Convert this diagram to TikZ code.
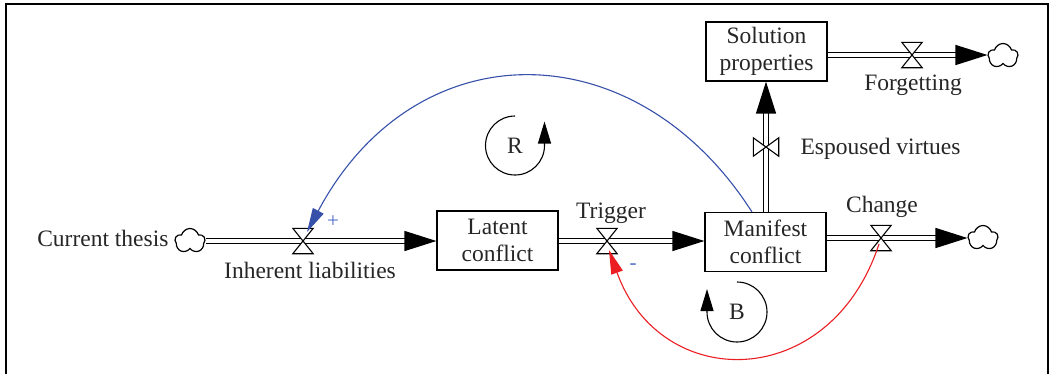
\documentclass[tikz,border=0pt]{standalone}
\usepackage{fontspec}
\setmainfont{Liberation Serif}
\usetikzlibrary{arrows.meta,shapes.symbols,calc}
\definecolor{loopblue}{RGB}{55,80,170}
\definecolor{signblue}{RGB}{80,110,200}
\definecolor{loopred}{RGB}{235,30,35}
\newcommand{\hvalvedraw}[1]{\filldraw[fill=white,line width=1.1pt] (#1.north west) -- (#1.north east) -- (#1.south west) -- (#1.south east) -- cycle;}
\newcommand{\vvalvedraw}[1]{\filldraw[fill=white,line width=1.1pt] (#1.north west) -- (#1.south west) -- (#1.north east) -- (#1.south east) -- cycle;}
\begin{document}
\begin{tikzpicture}[x=1pt,y=-1pt,
  every node/.style={font=\fontsize{23.5}{27}\selectfont, text=black!85},
  stock/.style={draw, line width=1.2pt, minimum width=121pt, minimum height=59pt, inner sep=0pt, align=center},
  pipe/.style={draw=black, double=white, line width=1.3pt, double distance=3.6pt, -{Triangle[length=32pt,width=20pt]}},
  cloudnode/.style={cloud, cloud puffs=5, cloud puff arc=150, draw, line width=1.2pt, minimum width=30pt, minimum height=25pt, inner sep=0pt, aspect=1.15},
  valveh/.style={minimum width=20pt, minimum height=25pt, inner sep=0pt},
  valvev/.style={minimum width=25pt, minimum height=18pt, inner sep=0pt},
  link/.style={line width=1.1pt},
  looparrow/.style={line width=1.1pt, -{Triangle[length=22pt,width=13pt]}},
]
\useasboundingbox (0,0) rectangle (1050,373);
\draw[line width=2pt] (6,380) -- (6,4) -- (1048,4) -- (1048,380);

% stocks
\node[stock] (latent) at (497.5,240.5) {Latent\\conflict};
\node[stock] (manifest) at (765.5,242) {Manifest\\conflict};
\node[stock] (solution) at (766.5,51.5) {Solution\\properties};

% clouds
\node[cloudnode] (c1) at (190,241) {};
\node[cloudnode] (c2) at (983,238) {};
\node[cloudnode] (c3) at (1003,56) {};

% valves
\node[valveh] (ilv) at (303,241) {};
\node[valveh] (tv) at (607,241) {};
\node[valveh] (chv) at (881,238) {};
\node[valveh] (fv) at (912,55) {};
\node[valvev] (ev) at (766,147) {};

% pipes
\draw[pipe] (c1.east |- ilv) -- (latent.west |- ilv);
\draw[pipe] (latent.east |- tv) -- (manifest.west |- tv);
\draw[pipe] (manifest.east |- chv) -- (c2.west |- chv);
\draw[pipe] (manifest.north -| ev) -- (solution.south -| ev);
\draw[pipe] (solution.east |- fv) -- (c3.west |- fv);

\hvalvedraw{ilv}
\hvalvedraw{tv}
\hvalvedraw{chv}
\hvalvedraw{fv}
\vvalvedraw{ev}

% labels
\node[anchor=east] (ct) at (172,238) {Current thesis};
\node (il) at (310,270) {Inherent liabilities};
\node (trig) at (611,213) {Trigger};
\node (chg) at (882,207) {Change};
\node (fg) at (913,85) {Forgetting};
\node[anchor=west] (esp) at (797,149) {Espoused virtues};

% causal links
\coordinate (bstart) at (752,212);
\draw[link, draw=loopblue, -{Triangle[length=24pt,width=12pt,fill=loopblue]}]
  (bstart) .. controls (635,29) and (415,29) .. ($(ilv.center)+(4,-9)$);
\node[text=signblue, font=\fontsize{21}{21}\selectfont] (plus) at (333,222) {+};

\draw[link, draw=loopred, -{Triangle[length=24pt,width=12pt,fill=loopred]}]
  ($(chv.center)+(-2,6)$) .. controls (830,393) and (660,393) .. ($(tv.center)+(2,9)$);
\node[text=signblue, font=\fontsize{21}{21}\selectfont] (minus) at (633,267) {-};

% loop symbols
\node (R) at (515,146) {R};
\draw[looparrow] (515,116) arc[start angle=270, end angle=0, radius=29.5] -- ++(0,-24);
\node (B) at (737,312) {B};
\draw[looparrow] (737,282) arc[start angle=270, end angle=540, radius=30] -- ++(0,-23);
\end{tikzpicture}
\end{document}
